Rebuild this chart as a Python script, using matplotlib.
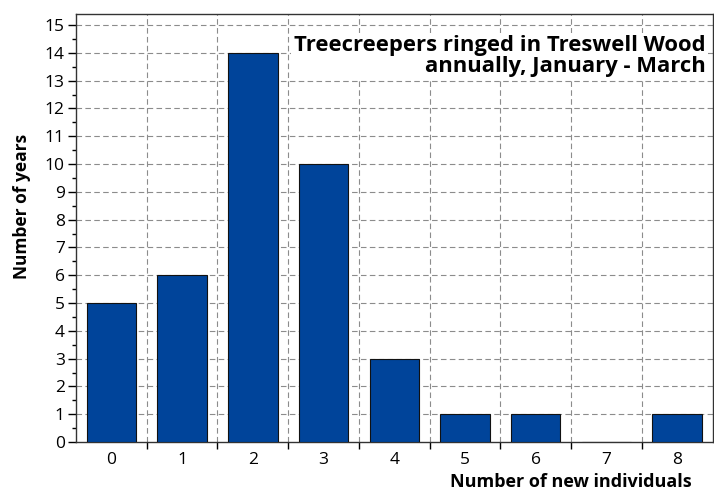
import matplotlib
matplotlib.use('Agg')
import matplotlib.pyplot as plt
from matplotlib.ticker import MultipleLocator, FixedLocator

plt.rcParams['font.family'] = ['Open Sans', 'DejaVu Sans']

new_individuals = [0, 1, 2, 3, 4, 5, 6, 7, 8]
num_years = [5, 6, 14, 10, 3, 1, 1, 0, 1]

fig = plt.figure(figsize=(7.14, 4.93), dpi=100)
ax = fig.add_axes([0.1064, 0.1034, 0.8916, 0.8682])

ax.bar(new_individuals, num_years, width=0.7, color='#00449a',
       edgecolor='#111111', linewidth=0.8, zorder=3)

ax.set_xlim(-0.5, 8.5)
ax.set_ylim(0, 15.4)

# grid on category boundaries (x) and integers (y)
bounds = [i + 0.5 for i in new_individuals[:-1]]
for b in bounds:
    ax.axvline(b, color='#8c8c8c', linestyle=(0, (5, 3)), linewidth=0.8, zorder=1)
for y in range(1, 16):
    ax.axhline(y, color='#8c8c8c', linestyle=(0, (5, 3)), linewidth=0.8, zorder=1)

ax.set_xticks(new_individuals)
ax.set_xticklabels([str(v) for v in new_individuals])
ax.tick_params(axis='x', which='major', length=0, pad=7, labelsize=12.5)
ax.xaxis.set_minor_locator(FixedLocator(bounds))
ax.tick_params(axis='x', which='minor', direction='out', length=5, width=1)

ax.yaxis.set_major_locator(MultipleLocator(1))
ax.yaxis.set_minor_locator(MultipleLocator(0.5))
ax.tick_params(axis='y', which='major', direction='out', length=6, width=1, labelsize=12.5, pad=2)
ax.tick_params(axis='y', which='minor', direction='out', length=3, width=1)

for s in ax.spines.values():
    s.set_color('#333333')
    s.set_linewidth(1)

ax.set_ylabel('Number of years', fontsize=12.5, fontweight='bold')
ax.yaxis.set_label_coords(-0.071, 0.55)

# x label sits right-aligned at the very bottom of the figure
fig.text(692 / 714, 2 / 493, 'Number of new individuals', ha='right', va='bottom',
         fontsize=13, fontweight='bold')

ax.text(0.989, 0.95, 'Treecreepers ringed in Treswell Wood\nannually, January - March',
        transform=ax.transAxes, ha='right', va='top', fontsize=15.8, fontweight='bold',
        linespacing=1.0, zorder=4,
        bbox=dict(facecolor='white', edgecolor='none', pad=2))

plt.savefig('out.png', dpi=100, facecolor='white')
